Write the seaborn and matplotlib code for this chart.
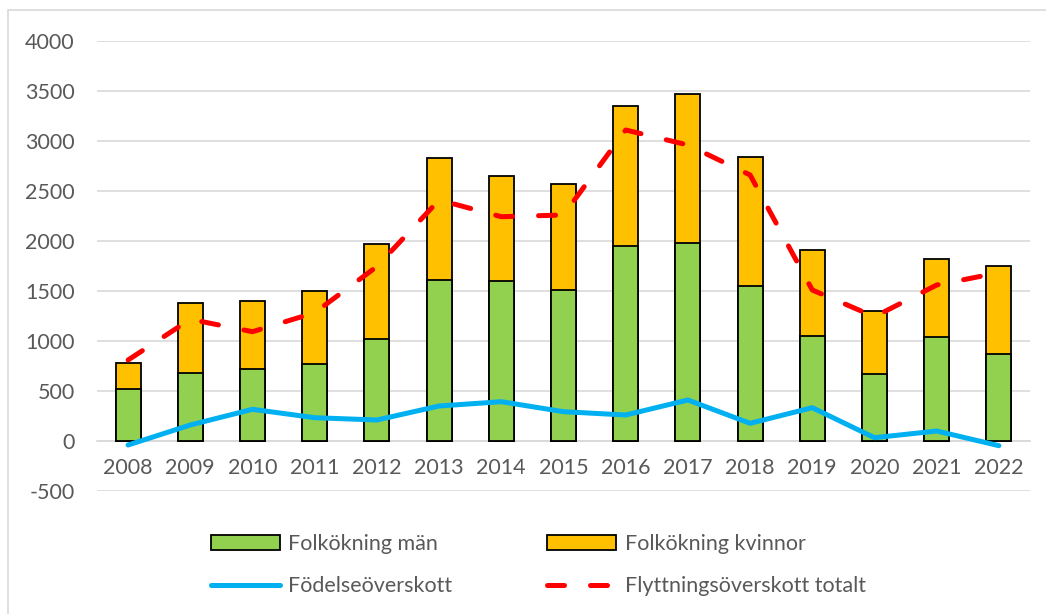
import matplotlib

matplotlib.use("Agg")
import matplotlib.pyplot as plt
import numpy as np
import pandas as pd
import seaborn as sns
from matplotlib.lines import Line2D
from matplotlib.patches import Patch, Rectangle

YEARS = [2008, 2009, 2010, 2011, 2012, 2013, 2014, 2015, 2016, 2017, 2018, 2019, 2020, 2021, 2022]
FOLKOKNING_MAN = [520, 680, 720, 767, 1020, 1610, 1603, 1510, 1950, 1977, 1550, 1050, 667, 1037, 870]
FOLKOKNING_KVINNOR = [260, 700, 683, 733, 947, 1220, 1047, 1060, 1403, 1490, 1287, 863, 633, 786, 877]
FODELSEOVERSKOTT = [-40, 160, 317, 233, 210, 350, 393, 293, 260, 410, 177, 333, 33, 100, -47]
FLYTTNINGSOVERSKOTT = [810, 1217, 1093, 1283, 1745, 2410, 2243, 2260, 3110, 2960, 2660, 1510, 1243, 1560, 1683]
Y_TICKS = [-500, 0, 500, 1000, 1500, 2000, 2500, 3000, 3500, 4000]

GREEN = "#92D050"
ORANGE = "#FFC000"
BLUE = "#00B0F0"
RED = "#FF0000"
GRID = "#D9D9D9"
TEXT = "#595959"

df = pd.DataFrame(
    {
        "year": YEARS,
        "man": FOLKOKNING_MAN,
        "kvinnor": FOLKOKNING_KVINNOR,
        "fodelse": FODELSEOVERSKOTT,
        "flytt": FLYTTNINGSOVERSKOTT,
    }
)
df["total"] = df["man"] + df["kvinnor"]

sns.set_style("white")
plt.rcParams["font.family"] = ["Lato", "DejaVu Sans"]
plt.rcParams["axes.unicode_minus"] = False

fig = plt.figure(figsize=(10.46, 6.14), dpi=100)
ax = fig.add_axes([97 / 1046, 1 - 491 / 614, (1030 - 97) / 1046, 450 / 614])

bar_kw = dict(native_scale=True, width=0.4, edgecolor="black", linewidth=1.3, ax=ax)
sns.barplot(data=df, x="year", y="total", color=ORANGE, saturation=1, **bar_kw)
sns.barplot(data=df, x="year", y="man", color=GREEN, saturation=1, **bar_kw)

sns.lineplot(data=df, x="year", y="fodelse", color=BLUE, linewidth=3.6, ax=ax,
             solid_capstyle="round", solid_joinstyle="round")
sns.lineplot(data=df, x="year", y="flytt", color=RED, linewidth=3.6, ax=ax,
             linestyle=(0, (3.4, 5.2)), dash_capstyle="round", dash_joinstyle="round")

ax.set_xlim(YEARS[0] - 0.5, YEARS[-1] + 0.5)
ax.set_ylim(-500, 4000)
ax.set_yticks(Y_TICKS)
ax.set_xticks(YEARS)
ax.set_xticklabels([str(y) for y in YEARS])
ax.set_xlabel("")
ax.set_ylabel("")

ax.grid(axis="y", color=GRID, linewidth=1.2)
ax.set_axisbelow(True)
for side in ["top", "right", "left"]:
    ax.spines[side].set_visible(False)
ax.spines["bottom"].set_position(("data", 0))
ax.spines["bottom"].set_color(GRID)
ax.spines["bottom"].set_linewidth(1.2)
ax.spines["bottom"].set_zorder(0.5)
ax.tick_params(axis="x", length=0, pad=12, labelsize=15.5, labelcolor=TEXT)
ax.tick_params(axis="y", length=0, pad=16, labelsize=15.5, labelcolor=TEXT)

# ncol=2 fills column by column, so order is man, fodelse, kvinnor, flytt
handles = [
    Patch(facecolor=GREEN, edgecolor="black", linewidth=1.3, label="Folkökning män"),
    Line2D([], [], color=BLUE, linewidth=3.6, solid_capstyle="round", label="Födelseöverskott"),
    Patch(facecolor=ORANGE, edgecolor="black", linewidth=1.3, label="Folkökning kvinnor"),
    Line2D([], [], color=RED, linewidth=3.6, linestyle=(0, (3.4, 5.2)), dash_capstyle="round",
           label="Flyttningsöverskott totalt"),
]
leg = fig.legend(
    handles=handles,
    ncol=2,
    loc="center left",
    bbox_to_anchor=(211 / 1046, 1 - 565 / 614),
    frameon=False,
    fontsize=15.5,
    labelcolor=TEXT,
    handlelength=3.2,
    handleheight=0.7,
    handletextpad=0.4,
    columnspacing=4.4,
    labelspacing=1.05,
    borderaxespad=0,
    borderpad=0,
)

fig.add_artist(Rectangle((8 / 1046, -0.1), 2, 1.1 - 10 / 614, transform=fig.transFigure,
                         fill=False, edgecolor=GRID, linewidth=1.2))

fig.savefig("out.png", dpi=100)
plt.close(fig)
